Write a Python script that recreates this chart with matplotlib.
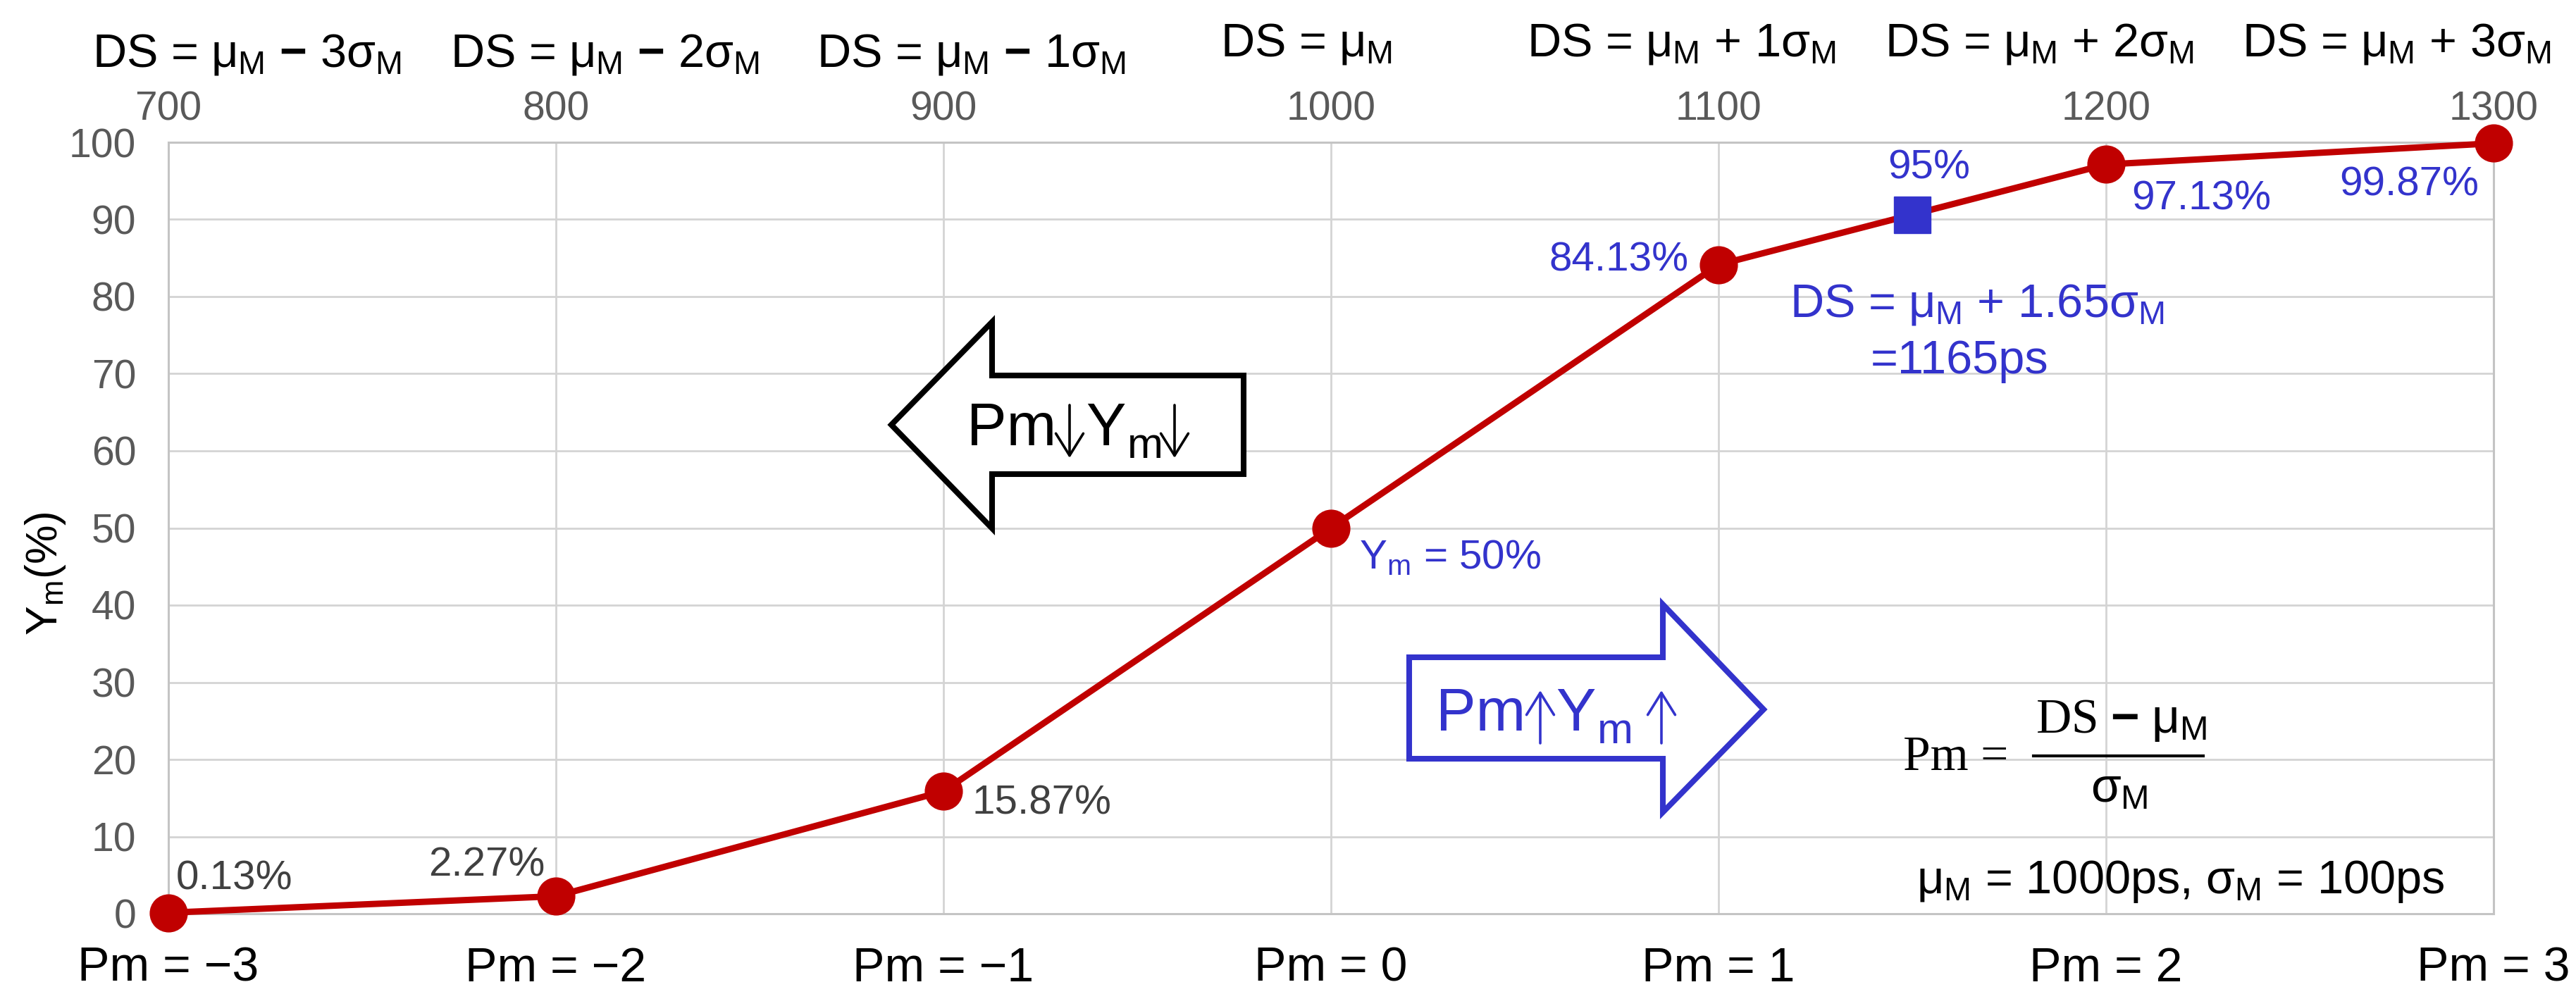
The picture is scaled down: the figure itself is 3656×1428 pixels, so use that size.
import matplotlib
matplotlib.use("Agg")
import matplotlib.pyplot as plt
from matplotlib.patches import Polygon
from matplotlib import transforms

# ---------------- data ----------------
ds_values = [700, 800, 900, 1000, 1100, 1200, 1300]
yield_pct = [0.13, 2.27, 15.87, 50.0, 84.13, 97.13, 99.87]
point_labels = ["0.13%", "2.27%", "15.87%", r"Y$_\mathrm{m}$ = 50%", "84.13%", "97.13%", "99.87%"]
pm_labels = ["Pm = \u22123", "Pm = \u22122", "Pm = \u22121", "Pm = 0", "Pm = 1", "Pm = 2", "Pm = 3"]
MINUS = r"$\mathbf{-}$"
ds_top_labels = [r"DS = $\mu_\mathrm{M}$ " + MINUS + r" 3$\sigma_\mathrm{M}$",
                 r"DS = $\mu_\mathrm{M}$ " + MINUS + r" 2$\sigma_\mathrm{M}$",
                 r"DS = $\mu_\mathrm{M}$ " + MINUS + r" 1$\sigma_\mathrm{M}$",
                 r"DS = $\mu_\mathrm{M}$",
                 r"DS = $\mu_\mathrm{M}$ + 1$\sigma_\mathrm{M}$",
                 r"DS = $\mu_\mathrm{M}$ + 2$\sigma_\mathrm{M}$",
                 r"DS = $\mu_\mathrm{M}$ + 3$\sigma_\mathrm{M}$"]
target_ds = [1150]
target_yield = [90.6]
target_label = "95%"
y_ticks = list(range(0, 101, 10))

# ---------------- style ----------------
RED = "#C00000"
BLUE = "#3333CC"
GRAY_TXT = "#404040"
TICK_GRAY = "#595959"
GRID = "#D4D4D4"

plt.rcParams["font.family"] = ["Liberation Sans", "DejaVu Sans"]
plt.rcParams["mathtext.fontset"] = "custom"
plt.rcParams["mathtext.rm"] = "Liberation Sans"
plt.rcParams["mathtext.it"] = "Liberation Sans"
plt.rcParams["mathtext.sf"] = "Liberation Sans"
plt.rcParams["mathtext.bf"] = "Liberation Sans:bold"

W, H = 3656, 1428
fig = plt.figure(figsize=(W / 100, H / 100), dpi=100)
AX_L, AX_R, AX_T, AX_B = 239, 3539, 202, 1297
ax = fig.add_axes([AX_L / W, 1 - AX_B / H, (AX_R - AX_L) / W, (AX_B - AX_T) / H])
ax.set_xlim(700, 1300)
ax.set_ylim(0, 100)


def px2data(px, py):
    """pixel position in the picture -> data coords (for annotation placement)"""
    x = 700 + (px - AX_L) / (AX_R - AX_L) * 600
    y = (AX_B - py) / (AX_B - AX_T) * 100
    return x, y


ax.grid(True, color=GRID, lw=2.0)
ax.set_axisbelow(True)
for sp in ax.spines.values():
    sp.set_color("#C4C4C4")
    sp.set_linewidth(2.2)

ax.set_xticks(ds_values)
ax.set_xticklabels(pm_labels, fontsize=49, color="black")
ax.tick_params(axis="x", length=0, pad=33)
ax.set_yticks(y_ticks)
ax.set_yticklabels([str(v) for v in y_ticks], fontsize=41, color=TICK_GRAY)
ax.tick_params(axis="y", length=0, pad=33)

ax2 = ax.twiny()
ax2.set_xlim(ax.get_xlim())
ax2.set_xticks(ds_values)
ax2.set_xticklabels([str(v) for v in ds_values], fontsize=41, color=TICK_GRAY)
ax2.tick_params(axis="x", length=0, pad=14)
for sp in ax2.spines.values():
    sp.set_visible(False)

# main curve
ax.plot(ds_values, yield_pct, color=RED, lw=6.5, marker="o", ms=38,
        zorder=5, clip_on=False)
ax.plot(target_ds, target_yield, marker="s", ms=37, color=BLUE,
        linestyle="none", zorder=6, clip_on=False)

# point labels
label_offsets = [(11, 33, "left"), (-15, 29, "right"), (41, -32, "left"),
                 (40, -58, "left"), (-42, -9, "right"), (36, -64, "left"),
                 (-21, -74, "right")]
label_colors = [GRAY_TXT, GRAY_TXT, GRAY_TXT, BLUE, BLUE, BLUE, BLUE]
for x, y, txt, (dx, dy, ha), c in zip(ds_values, yield_pct, point_labels,
                                      label_offsets, label_colors):
    ax.annotate(txt, (x, y), xytext=(dx, dy), textcoords="offset pixels",
                ha=ha, va="baseline", fontsize=42, color=c, zorder=7)
ax.annotate(target_label, (target_ds[0], target_yield[0]), xytext=(24, 51),
            textcoords="offset pixels", ha="center", va="baseline",
            fontsize=42, color=BLUE, zorder=7)

ax.text(*px2data(2806, 450), r"DS = $\mu_\mathrm{M}$ + 1.65$\sigma_\mathrm{M}$",
        ha="center", va="baseline", fontsize=48, color=BLUE)
ax.text(*px2data(2781, 530), "=1165ps", ha="center", va="baseline",
        fontsize=48, color=BLUE)

# top DS labels
top_x = [720.3, 812.6, 907.1, 993.6, 1090.5, 1182.8, 1274.9]
top_y = [0.9335, 0.9335, 0.9335, 0.944, 0.944, 0.944, 0.944]
blend = transforms.blended_transform_factory(ax.transData, fig.transFigure)
for x, y, s in zip(top_x, top_y, ds_top_labels):
    ax.text(x, y, s, transform=blend, ha="center", va="baseline",
            fontsize=48, color="black", clip_on=False)

# y label
fig.text(65 / W, 1 - 814 / H, r"Y$_\mathrm{m}$(%)", rotation=90,
         ha="center", va="center", fontsize=45, color="black")

# big block arrows (annotation shapes)
left_arrow_px = [(1265, 603), (1408, 457), (1408, 533), (1765, 533),
                 (1765, 673), (1408, 673), (1408, 750)]
ax.add_patch(Polygon([px2data(*p) for p in left_arrow_px], closed=True,
                     facecolor="white", edgecolor="black", lw=5.8,
                     joinstyle="miter", zorder=4))
right_arrow_px = [(2000, 933), (2360, 933), (2360, 858), (2503, 1007),
                  (2360, 1153), (2360, 1077), (2000, 1077)]
ax.add_patch(Polygon([px2data(*p) for p in right_arrow_px], closed=True,
                     facecolor="white", edgecolor=BLUE, lw=5.8,
                     joinstyle="miter", zorder=4))


def arrow_label(pieces, arrows, color):
    for txt, lx, by, fs in pieces:
        ax.text(*px2data(lx, by), txt, ha="left", va="baseline",
                fontsize=fs, color=color, zorder=6)
    for cx, ytail, yhead in arrows:
        ax.annotate("", xy=px2data(cx, yhead), xytext=px2data(cx, ytail),
                    arrowprops=dict(arrowstyle="->,head_length=0.45,head_width=0.28",
                                    color=color, lw=2.6, mutation_scale=50,
                                    shrinkA=0, shrinkB=0), zorder=6)


arrow_label([("Pm", 1372, 632, 61), ("Y", 1541, 632, 61), ("m", 1600, 650, 44)],
            [(1518, 575, 650), (1667, 575, 650)], "black")
arrow_label([("Pm", 2038, 1037, 61), ("Y", 2208, 1037, 61), ("m", 2267, 1055, 44)],
            [(2186, 1055, 980), (2358, 1055, 980)], BLUE)

# formula Pm = (DS - muM) / sigmaM
ax.text(*px2data(2701, 1093), "Pm =", ha="left", va="baseline", fontsize=50,
        family="Liberation Serif", color="black", zorder=5)
ax.text(*px2data(3010, 1040), r"DS " + MINUS + r" $\mu_\mathrm{M}$", ha="center",
        va="baseline", fontsize=50, family="Liberation Serif", color="black", zorder=5)
bx0, by0 = px2data(2886, 1073)
bx1, _ = px2data(3127, 1073)
ax.plot([bx0, bx1], [by0, by0], color="black", lw=3, zorder=5)
ax.text(*px2data(3008, 1138), r"$\sigma_\mathrm{M}$", ha="center", va="baseline",
        fontsize=50, color="black", zorder=5)
ax.text(*px2data(3095, 1268), r"$\mu_\mathrm{M}$ = 1000ps, $\sigma_\mathrm{M}$ = 100ps",
        ha="center", va="baseline", fontsize=48, color="black", zorder=5)

fig.savefig("out.png", dpi=100)
